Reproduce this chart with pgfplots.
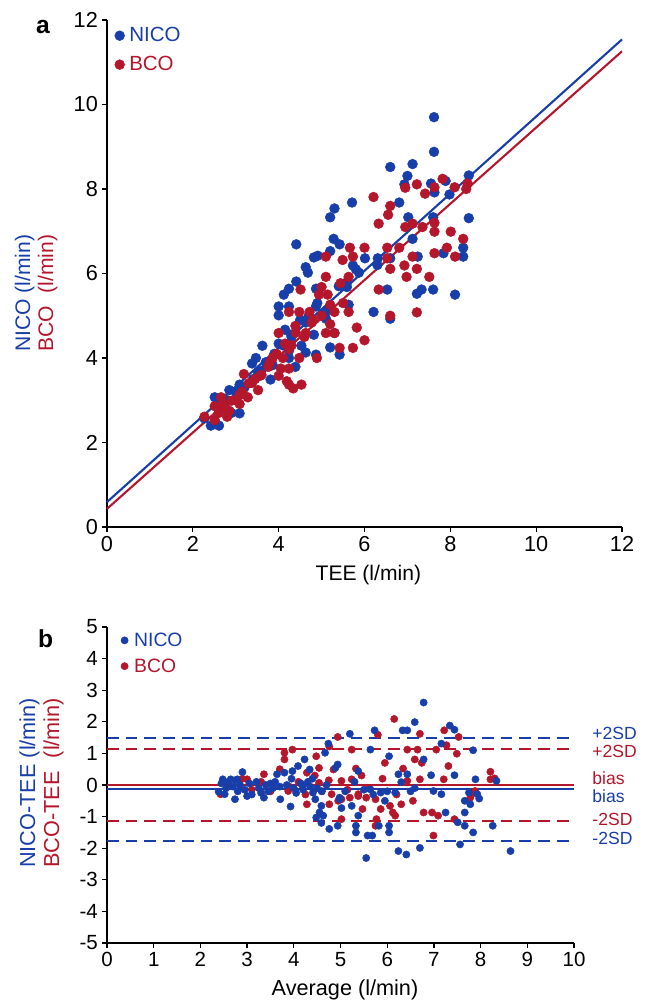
\documentclass[border=0pt]{standalone}
\usepackage{pgfplots}
\pgfplotsset{compat=1.18}
\usepackage{fontspec}
\setmainfont{Liberation Sans}

\definecolor{nico}{RGB}{24,62,170}
\definecolor{bco}{RGB}{180,22,44}

% 1 px of the reference = 0.03 cm
\pgfplotsset{
  dotleg/.style={legend image code/.code={%
    \draw[##1] plot coordinates {(0.15cm,0cm)};
    \path (0cm,0cm) (0.36cm,0cm);}},
  panel/.style={
    scale only axis,
    axis lines=left,
    axis line style={-, line width=1.2pt},
    tick align=outside,
    major tick length=4.3pt,
    tick style={line width=1.1pt, black},
    /pgf/number format/assume math mode=true,
    clip=false,
    legend cell align=left,
  },
}

\begin{document}
\begin{tikzpicture}
\path[use as bounding box] (0,0) rectangle (19.38cm,-30.03cm);

% ---------- panel a ----------
\begin{axis}[panel,
  at={(3.21cm,-15.81cm)}, anchor=south west,
  width=15.45cm, height=15.21cm,
  xmin=0, xmax=12, ymin=0, ymax=12,
  xtick={0,2,...,12}, ytick={0,2,...,12},
  tick label style={font=\fontsize{18.5}{21}\selectfont},
  legend style={at={(0.014,0.99)}, anchor=north west, draw=none, fill=none,
    font=\fontsize{17.5}{20}\selectfont, row sep=7pt, inner sep=0pt,
    nodes={inner sep=2pt}},
]
\addplot[only marks, mark=*, mark size=4.2pt, nico, dotleg] coordinates {
(7.62,9.70)(7.62,8.88)(6.60,8.52)(7.12,8.59)(7.00,8.31)(8.43,8.32)(7.89,8.19)
(7.55,8.13)(6.93,8.11)(7.63,7.92)(7.98,7.87)(6.81,7.68)(5.71,7.68)(5.30,7.54)
(5.20,7.33)(7.02,7.33)(7.60,7.33)(8.43,7.31)(7.12,6.82)(5.28,6.82)(5.42,6.69)
(4.41,6.69)(4.91,6.42)(4.82,6.38)(5.20,6.53)(8.30,6.61)(8.30,6.40)(7.84,6.48)
(7.24,6.40)(6.01,6.36)(6.31,6.36)(6.60,6.36)(5.73,6.19)(4.63,6.15)(4.68,6.02)
(5.87,6.02)(4.41,5.81)(4.24,5.64)(4.12,5.50)(4.87,5.64)(5.59,5.68)(7.33,5.62)
(7.60,5.62)(7.22,5.52)(6.53,5.62)(8.11,5.50)(4.00,5.22)(4.24,5.22)(4.00,5.01)
(4.87,5.22)(5.63,5.26)(5.10,4.93)(5.30,4.59)(6.21,5.09)(6.60,4.93)(4.15,4.67)
(4.29,4.55)(4.53,4.29)(4.63,4.13)(4.00,4.34)(4.24,4.17)(5.20,4.25)(5.42,4.08)
(4.87,4.08)(4.39,3.79)(3.62,4.29)(3.38,3.87)(3.52,3.66)(3.81,3.49)(3.09,3.37)
(2.85,3.24)(2.51,3.07)(3.09,2.69)(2.42,2.40)(2.61,2.40)(2.27,2.57)(2.71,2.82)
(3.47,4.00)(3.86,3.83)(4.24,4.00)(4.63,4.84)(4.82,4.55)
(2.60,2.90)(2.80,3.00)(2.90,2.70)(3.00,3.20)(3.20,3.30)(3.40,3.50)(3.60,3.70)
(3.70,3.90)(3.90,4.10)(4.10,4.30)(4.30,4.50)(4.50,4.90)(4.70,5.00)(4.90,5.30)
(5.10,5.10)(5.40,5.70)(5.60,5.80)(5.80,6.10)(6.30,6.20)
};
\addlegendentry{\textcolor{nico}{NICO}}
\addplot[only marks, mark=*, mark size=4.2pt, bco, dotleg] coordinates {
(7.82,8.24)(8.10,8.04)(7.63,8.04)(7.22,8.11)(6.95,8.03)(8.40,8.13)(8.37,8.00)
(7.41,7.89)(6.21,7.81)(6.60,7.60)(6.55,7.39)(6.33,7.18)(6.95,7.10)(7.12,7.18)
(7.35,7.10)(7.63,7.20)(7.63,6.99)(8.01,6.99)(8.30,6.82)(7.92,6.61)(7.63,6.48)
(8.11,6.40)(6.81,6.61)(6.53,6.61)(6.00,6.61)(5.66,6.61)(5.73,6.40)(5.49,6.32)
(5.10,6.40)(6.53,6.36)(6.60,6.11)(6.93,6.19)(7.22,6.11)(7.12,6.40)(6.98,5.92)
(7.51,5.92)(5.10,5.92)(5.63,5.92)(5.44,5.77)(5.00,5.68)(4.51,5.62)(6.33,5.62)
(4.94,5.50)(5.14,5.50)(5.20,5.26)(5.30,5.09)(5.63,5.09)(4.24,5.09)(4.48,5.09)
(4.72,5.09)(7.22,5.08)(6.60,5.00)(4.77,4.84)(4.39,4.76)(4.63,4.59)(5.82,4.72)
(5.10,4.59)(5.30,4.59)(6.00,4.42)(5.42,4.24)(5.73,4.24)(4.89,4.00)(4.48,4.00)
(4.00,4.59)(4.15,4.34)(4.24,4.21)(3.86,4.00)(3.76,3.79)(4.05,3.75)(4.24,3.75)
(3.57,3.58)(4.00,3.58)(4.19,3.45)(3.19,3.62)(3.38,3.41)(3.52,3.24)(3.09,3.12)
(4.24,3.37)(4.53,3.37)(4.34,3.28)(2.66,3.07)(2.76,2.82)(2.80,2.61)(2.51,2.86)
(2.27,2.61)(2.51,2.53)(3.09,2.91)(3.28,3.07)(2.90,2.99)
(2.60,2.70)(2.70,2.90)(2.85,2.75)(3.00,3.00)(3.15,3.20)(3.30,3.40)(3.45,3.50)
(3.60,3.60)(3.80,3.90)(3.95,4.10)(4.10,4.00)(4.30,4.30)(4.40,4.60)(4.60,4.50)
(4.80,4.90)(5.00,5.00)(5.20,4.80)(5.50,5.30)
};
\addlegendentry{\textcolor{bco}{BCO}}
\addplot[nico, line width=1.8pt, forget plot] coordinates {(0,0.59)(12,11.54)};
\addplot[bco, line width=1.8pt, forget plot] coordinates {(0,0.43)(12,11.26)};
\end{axis}

% ---------- panel b ----------
\begin{axis}[panel,
  at={(3.21cm,-28.29cm)}, anchor=south west,
  width=14.01cm, height=9.48cm,
  xmin=0, xmax=10, ymin=-5, ymax=5,
  xtick={0,1,...,10}, ytick={-5,-4,...,5},
  tick label style={font=\fontsize{17.5}{20}\selectfont},
  legend style={at={(0.026,0.99)}, anchor=north west, draw=none, fill=none,
    font=\fontsize{16.5}{19}\selectfont, row sep=5pt, inner sep=0pt,
    nodes={inner sep=2pt}},
]
\addplot[only marks, mark=*, mark size=3.1pt, bco, dotleg, forget plot] coordinates {
(6.15,2.09)(4.94,1.52)(6.70,1.62)(7.22,1.73)(7.53,1.52)(5.80,1.59)(4.76,1.22)
(3.97,1.12)(3.80,1.02)(3.80,0.81)(5.24,1.12)(6.43,1.12)(6.65,1.12)(7.05,1.12)
(7.27,1.26)(7.49,0.99)(5.95,0.70)(6.59,0.81)(6.74,0.70)(4.48,0.91)(7.31,0.60)
(6.34,0.52)(5.33,0.52)(4.85,0.49)(4.54,0.54)(4.28,0.39)(3.36,0.34)(3.00,0.18)
(6.70,0.18)(7.21,0.18)(8.21,0.42)(8.21,0.18)(8.30,0.21)(5.24,0.18)(2.43,-0.29)
(3.88,-0.19)(4.28,-0.61)(4.81,-0.29)(4.76,-0.61)(5.02,-0.45)(5.20,-0.40)
(5.38,-0.29)(5.02,-1.08)(5.38,-0.35)(5.47,-0.76)(5.77,-1.08)(5.75,-1.29)
(5.86,-0.76)(6.06,-0.66)(6.12,-0.87)(6.17,-0.97)(6.30,-0.61)(6.43,0.13)
(6.78,-0.87)(6.96,-0.87)(6.99,-1.60)(7.09,-0.97)(7.44,-1.08)(7.78,-0.40)
(7.88,-0.19)(7.84,-0.24)(4.54,0.07)(5.02,0.13)(5.55,-0.40)(5.75,-0.45)
(2.60,0.00)(2.90,0.20)(3.10,-0.15)(3.30,0.10)(3.50,-0.20)(3.70,0.50)(3.90,-0.05)
(4.10,0.10)(4.25,-0.30)(4.45,0.30)(4.60,-0.20)(4.75,0.15)(4.95,-0.50)(5.15,-0.15)
(5.45,0.30)(5.60,-0.10)(5.90,0.20)(6.20,-0.30)(6.55,-0.50)
};
\addplot[only marks, mark=*, mark size=3.1pt, nico, dotleg, forget plot] coordinates {
(6.78,2.61)(6.59,1.99)(7.34,1.88)(7.44,1.75)(6.33,1.73)(6.43,1.73)(5.73,1.73)
(5.20,1.62)(7.16,1.31)(4.74,1.31)(4.67,1.02)(5.64,1.12)(7.84,1.10)(6.04,0.91)
(6.78,0.81)(4.94,0.65)(4.89,0.54)(4.23,0.81)(4.09,0.60)(3.97,0.44)(3.80,0.39)
(3.64,0.34)(2.90,0.41)(4.34,0.49)(5.38,0.44)(6.94,0.31)(6.24,0.34)(6.43,0.34)
(7.44,0.31)(7.89,0.18)(8.34,0.13)(6.30,0.09)(2.48,0.18)(2.65,0.18)(2.79,0.18)
(2.39,-0.21)(2.52,-0.29)(2.74,-0.45)(3.00,-0.35)(3.36,-0.40)(3.71,-0.45)
(3.93,-0.68)(4.19,-0.03)(4.41,-0.24)(4.46,-0.45)(4.59,-0.66)(4.55,-0.87)
(4.63,-0.97)(4.48,-1.03)(4.59,-1.20)(4.76,-1.39)(4.94,-1.29)(4.98,-0.45)
(4.98,-0.40)(5.24,-0.66)(5.33,-1.29)(5.33,-1.50)(5.58,-1.60)(5.68,-1.60)
(5.55,-2.31)(5.82,-1.29)(6.04,-1.29)(6.04,-1.50)(5.95,-0.50)(5.86,-0.24)
(5.64,-0.14)(6.17,-0.24)(6.24,-2.09)(6.41,-2.20)(6.70,-1.99)(6.99,-0.19)
(7.16,-0.29)(7.25,-0.87)(7.51,-1.18)(7.56,-1.88)(7.66,-0.50)(7.66,-1.29)
(7.66,-0.87)(7.78,-0.61)(7.84,-1.50)(7.93,-0.29)(7.97,-0.43)(8.26,-1.29)
(8.64,-2.09)(7.75,-0.24)(6.59,-0.10)(5.38,-0.97)(5.02,-0.73)
(2.45,0.05)(2.55,-0.10)(2.60,0.10)(2.70,-0.05)(2.75,0.15)(2.80,-0.20)(2.85,0.00)
(2.95,-0.15)(3.05,0.05)(3.10,-0.30)(3.20,0.10)(3.25,-0.10)(3.30,-0.25)(3.40,0.00)
(3.45,-0.20)(3.50,0.05)(3.55,-0.10)(3.60,0.10)(3.70,-0.05)(3.85,0.00)(3.95,0.20)
(4.00,-0.10)(4.05,-0.25)(4.15,0.05)(4.20,-0.15)(4.30,0.10)(4.35,-0.05)(4.40,0.20)
(4.50,-0.10)(4.60,-0.20)(4.70,0.00)(5.10,-0.20)(5.30,0.10)(5.50,-0.15)(5.70,-0.30)
(6.00,-0.20)(6.50,-0.20)
};
% legend entries
\addlegendimage{only marks, mark=*, mark size=3.1pt, nico, dotleg}
\addlegendentry{\textcolor{nico}{NICO}}
\addlegendimage{only marks, mark=*, mark size=3.1pt, bco, dotleg}
\addlegendentry{\textcolor{bco}{BCO}}
% limits of agreement
\addplot[nico, line width=1.6pt, dash pattern=on 10pt off 6pt, forget plot] coordinates {(0,1.49)(10,1.49)};
\addplot[bco, line width=1.6pt, dash pattern=on 10pt off 6pt, forget plot] coordinates {(0,1.15)(10,1.15)};
\addplot[bco, line width=1.8pt, forget plot] coordinates {(0,-0.01)(10,-0.01)};
\addplot[nico, line width=1.8pt, forget plot] coordinates {(0,-0.14)(10,-0.14)};
\addplot[bco, line width=1.6pt, dash pattern=on 10pt off 6pt, forget plot] coordinates {(0,-1.13)(10,-1.13)};
\addplot[nico, line width=1.6pt, dash pattern=on 10pt off 6pt, forget plot] coordinates {(0,-1.78)(10,-1.78)};
\begin{scope}[font=\fontsize{15}{17}\selectfont]
\node[anchor=west, nico, inner sep=0pt] at (axis cs:10.39,1.62) {+2SD};
\node[anchor=west, bco, inner sep=0pt] at (axis cs:10.39,1.05) {+2SD};
\node[anchor=west, bco, inner sep=0pt] at (axis cs:10.39,0.20) {bias};
\node[anchor=west, nico, inner sep=0pt] at (axis cs:10.39,-0.36) {bias};
\node[anchor=west, bco, inner sep=0pt] at (axis cs:10.39,-1.10) {-2SD};
\node[anchor=west, nico, inner sep=0pt] at (axis cs:10.39,-1.70) {-2SD};
\end{scope}
\end{axis}

% ---------- labels ----------
\node[anchor=base west, inner sep=0pt, font=\fontsize{21}{23}\selectfont\bfseries] at (1.08cm,-1.02cm) {a};
\node[anchor=base west, inner sep=0pt, font=\fontsize{21}{23}\selectfont\bfseries] at (1.14cm,-19.41cm) {b};

\begin{scope}[font=\fontsize{18}{20}\selectfont]
\node[rotate=90, anchor=base west, inner sep=0pt, nico] at (0.90cm,-10.56cm) {NICO (l/min)};
\node[rotate=90, anchor=base west, inner sep=0pt, bco] at (1.59cm,-10.56cm) {\rlap{BCO}\phantom{NICO} (l/min)};
\node[anchor=base, inner sep=0pt] at (11.05cm,-17.40cm) {TEE (l/min)};
\end{scope}
\begin{scope}[font=\fontsize{18.5}{21}\selectfont]
\node[rotate=90, anchor=base west, inner sep=0pt, nico] at (1.05cm,-26.04cm) {NICO-TEE (l/min)};
\node[rotate=90, anchor=base west, inner sep=0pt, bco] at (1.77cm,-26.04cm) {\rlap{BCO-TEE}\phantom{NICO-TEE} (l/min)};
\node[anchor=base, inner sep=0pt] at (10.35cm,-29.85cm) {Average (l/min)};
\end{scope}
\end{tikzpicture}
\end{document}
